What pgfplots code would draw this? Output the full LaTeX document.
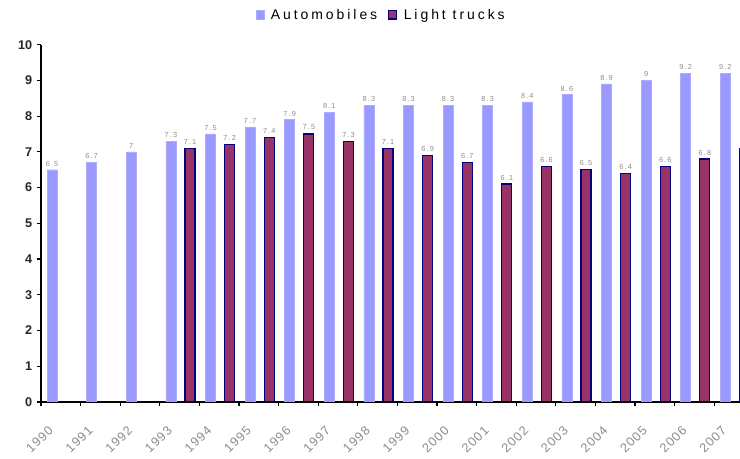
\documentclass[border=0pt]{standalone}
\usepackage{pgfplots}
\pgfplotsset{compat=1.18}
\usepackage{graphicx}
\usepackage{fontspec}
\setmainfont{Liberation Sans}
\newfontfamily\legfont[LetterSpace=21]{Liberation Sans}
\newfontfamily\tickfont[LetterSpace=10]{Liberation Sans}
\newfontfamily\datafont[LetterSpace=15]{Liberation Sans}
\definecolor{autoc}{HTML}{9999FF}
\definecolor{truckc}{HTML}{993366}
\definecolor{truckb}{HTML}{000080}
\definecolor{lblgray}{HTML}{8C8C8C}
\newcommand\rl[1]{\rotatebox{45}{#1}}
\begin{document}
\begin{tikzpicture}
\begin{axis}[
  x=29.7pt, y=26.8pt,
  xmin=0, xmax=17.66, ymin=0, ymax=10,
  axis x line=bottom, axis y line=left,
  axis line style={-, line width=0.9pt, black},
  xtick={0,...,17},
  xticklabels={\rl{1990},\rl{1991},\rl{1992},\rl{1993},\rl{1994},\rl{1995},\rl{1996},\rl{1997},\rl{1998},\rl{1999},\rl{2000},\rl{2001},\rl{2002},\rl{2003},\rl{2004},\rl{2005},\rl{2006},\rl{2007}},
  x tick label style={anchor=north east, xshift=10pt, yshift=-14pt, font=\tickfont\fontsize{9.5}{10}\selectfont, text=lblgray, inner sep=0pt},
  ytick={0,...,10},
  y tick label style={font=\fontsize{9.5}{10}\selectfont\bfseries, text=black!85},
  /pgf/number format/assume math mode=true,
  tick align=outside, major tick length=3pt,
  tick style={line width=0.9pt, black},
  ybar, bar width=7.5pt, bar shift=0pt,
  nodes near coords,
  nodes near coords style={font=\datafont\fontsize{5.5}{6}\selectfont, text=lblgray, inner sep=2.5pt},
  legend style={at={(rel axis cs:0.487,1.083)}, anchor=center, draw=none, fill=none,
    legend columns=2, font=\legfont\fontsize{10.5}{12}\selectfont,
    /tikz/every odd column/.append style={column sep=3pt},
    /tikz/every even column/.append style={column sep=6pt}},
  legend image code/.code={\draw[#1] (0pt,-3pt) rectangle (6pt,3.5pt);},
]
\addplot[fill=autoc, draw=autoc!80, line width=0.3pt] coordinates {
(0.28,6.5)(1.28,6.7)(2.28,7.0)(3.28,7.3)(4.28,7.5)(5.28,7.7)(6.28,7.9)(7.28,8.1)(8.28,8.3)(9.28,8.3)(10.28,8.3)(11.28,8.3)(12.28,8.4)(13.28,8.6)(14.28,8.9)(15.28,9.0)(16.28,9.2)(17.28,9.2)};
\addlegendentry{Automobiles}
\addplot[fill=truckc, draw=truckb, line width=0.9pt] coordinates {
(3.765,7.1)(4.765,7.2)(5.765,7.4)(6.765,7.5)(7.765,7.3)(8.765,7.1)(9.765,6.9)(10.765,6.7)(11.765,6.1)(12.765,6.6)(13.765,6.5)(14.765,6.4)(15.765,6.6)(16.765,6.8)(17.765,7.1)};
\addlegendentry{Light trucks}
\coordinate (O) at (axis cs:0,0);
\end{axis}
\pgfresetboundingbox
\path[use as bounding box] ([xshift=-30.75pt,yshift=-42.75pt]O) rectangle ([xshift=524.25pt,yshift=301.5pt]O);
\end{tikzpicture}
\end{document}
